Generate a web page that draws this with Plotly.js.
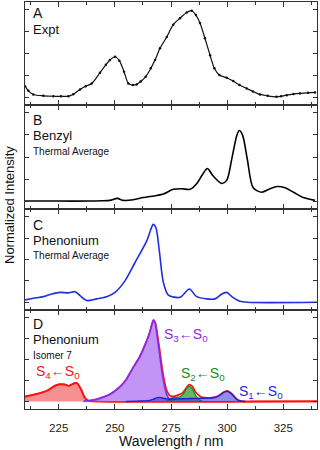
<!DOCTYPE html>
<html><head><meta charset="utf-8">
<script src="https://cdn.plot.ly/plotly-3.0.1.min.js"></script>
<style>html,body{margin:0;padding:0;background:#fff}#chart{width:320px;height:450px}</style>
</head><body><div id="chart"></div>
<script>
// Panel A: experiment
var exptWl  = [210, 211.5, 213.7, 218.2, 222.6, 226, 229.3, 231.5, 234.5, 237, 239.7, 243.4, 246, 247.8, 250.1, 252, 254.1, 256, 258, 259.7, 261.5, 263.7, 266, 267.9, 270.1, 273.1, 276, 279, 282, 284.2, 286.1, 287.9, 290.1, 292.4, 294.3, 296.5, 299.8, 302.7, 305.5, 308.7, 311.5, 314.6, 318, 322, 324, 326.5, 329.5, 332.4, 336, 339.1];
var exptVal = [0.126, 0.072, 0.031, 0.015, 0.01, 0.01, 0.01, 0.034, 0.088, 0.125, 0.157, 0.28, 0.37, 0.425, 0.463, 0.418, 0.29, 0.157, 0.138, 0.146, 0.18, 0.233, 0.33, 0.425, 0.56, 0.69, 0.83, 0.905, 0.97, 0.99, 0.94, 0.85, 0.675, 0.48, 0.33, 0.253, 0.222, 0.184, 0.14, 0.1, 0.065, 0.031, 0.015, 0.004, 0.01, 0.023, 0.035, 0.043, 0.05, 0.054];

// Panel B: Benzyl thermal average
var benzWl  = [210, 225, 239, 244, 247.8, 251.1, 253.8, 258.2, 262.7, 268.6, 271.6, 276, 279.8, 283.5, 286.4, 289.1, 291.2, 293.6, 297.6, 299.8, 302, 304.3, 305.4, 306.9, 309, 311.6, 315.4, 319.1, 322.1, 325.8, 329.5, 333.9, 339.1];
var benzVal = [0, 0, 0, 0.003, 0.008, 0.03, 0.008, 0.015, 0.04, 0.063, 0.08, 0.133, 0.14, 0.133, 0.196, 0.305, 0.37, 0.29, 0.2, 0.235, 0.47, 0.745, 0.8, 0.745, 0.47, 0.15, 0.1, 0.14, 0.165, 0.15, 0.1, 0.04, 0.008];

// Panel C: Phenonium thermal average
var phenWl  = [210, 213.7, 218.1, 221.9, 225.6, 229.3, 232.3, 234.5, 237.5, 241.9, 246.4, 250.1, 254.5, 259, 264.2, 266, 267.1, 268.3, 269.8, 271.6, 273.8, 279, 283.2, 286.4, 290.9, 294.6, 297.6, 299.8, 302.5, 305.7, 309, 340];
var phenVal = [0.027, 0.047, 0.066, 0.097, 0.116, 0.11, 0.124, 0.078, 0.02, 0.04, 0.066, 0.116, 0.25, 0.465, 0.717, 0.85, 0.91, 0.87, 0.6, 0.233, 0.085, 0.058, 0.155, 0.066, 0.04, 0.04, 0.097, 0.116, 0.058, 0.012, 0, 0];

// Panel D: Phenonium isomer 7, total and states
var totWl  = [210, 212, 215, 218, 220, 222, 224, 226, 228, 229.5, 231, 232.5, 233.5, 235, 236.5, 238, 240, 244, 248, 252, 255, 258, 261, 263.5, 265.5, 266.5, 267.2, 268, 269, 270, 271, 272, 273, 274.5, 276, 278, 280, 281.5, 283, 284.5, 286, 288, 290, 293, 296, 298.5, 300, 301.5, 303, 304.5, 306, 308, 312, 340];
var totVal = [0.057, 0.07, 0.087, 0.11, 0.13, 0.165, 0.195, 0.205, 0.2, 0.185, 0.205, 0.22, 0.21, 0.14, 0.05, 0.01, 0.012, 0.042, 0.086, 0.165, 0.255, 0.395, 0.525, 0.675, 0.82, 0.92, 0.97, 0.94, 0.79, 0.61, 0.41, 0.25, 0.14, 0.07, 0.06, 0.075, 0.1, 0.15, 0.2, 0.18, 0.11, 0.06, 0.045, 0.045, 0.065, 0.11, 0.125, 0.105, 0.065, 0.025, 0.006, 0, 0, 0];
var s4Wl  = [210, 212, 215, 218, 220, 222, 224, 226, 228, 229.5, 231, 232.5, 233.5, 235, 236.5, 238, 240, 340];
var s4Val = [0.057, 0.07, 0.087, 0.11, 0.13, 0.165, 0.195, 0.205, 0.2, 0.185, 0.205, 0.22, 0.21, 0.14, 0.05, 0.01, 0, 0];
var s3Wl  = [236, 240, 244, 248, 252, 255, 258, 261, 263.5, 265.5, 266.5, 267.2, 268, 269, 270, 271, 272, 273, 274.5, 276];
var s3Val = [0, 0.015, 0.045, 0.09, 0.17, 0.26, 0.4, 0.53, 0.68, 0.82, 0.92, 0.97, 0.93, 0.75, 0.55, 0.35, 0.2, 0.09, 0.02, 0];
var s2Wl  = [273, 275, 277, 279, 280.5, 282, 283.2, 284.5, 286, 287.5, 289];
var s2Val = [0, 0.04, 0.05, 0.055, 0.09, 0.16, 0.18, 0.15, 0.07, 0.02, 0];
var s1Wl  = [255, 260, 265, 267, 268.5, 270, 271.5, 273, 276, 280, 284, 288, 292, 295, 297, 298.5, 300, 301.5, 303, 304.5, 306, 308];
var s1Val = [0, 0.004, 0.01, 0.025, 0.042, 0.048, 0.04, 0.03, 0.03, 0.032, 0.035, 0.038, 0.04, 0.05, 0.08, 0.11, 0.12, 0.1, 0.06, 0.02, 0.005, 0];

var xTickVals = [225, 250, 275, 300, 325];
var xTickText = ['225', '250', '275', '300', '325'];

var FONT = 'Liberation Sans, Arial, sans-serif';
var traces = [
  {x: exptWl, y: exptVal, xaxis: 'x', yaxis: 'y', mode: 'lines+markers', line: {color: '#111', width: 1.2, shape: 'spline', smoothing: 0.8}, marker: {color: '#111', size: 2.5}},
  {x: benzWl, y: benzVal, xaxis: 'x2', yaxis: 'y2', mode: 'lines', line: {color: '#000', width: 1.6, shape: 'spline', smoothing: 0.8}},
  {x: phenWl, y: phenVal, xaxis: 'x3', yaxis: 'y3', mode: 'lines', line: {color: '#1f2fe0', width: 1.6, shape: 'spline', smoothing: 0.8}},
  {x: totWl, y: totVal, xaxis: 'x4', yaxis: 'y4', mode: 'lines', line: {color: '#ff1010', width: 1.7, shape: 'spline', smoothing: 0.6}},
  {x: s4Wl, y: s4Val, xaxis: 'x4', yaxis: 'y4', mode: 'lines', fill: 'tozeroy', fillcolor: 'rgba(240,70,70,0.6)', line: {color: '#ff1010', width: 1.8, shape: 'spline', smoothing: 0.6}},
  {x: s3Wl, y: s3Val, xaxis: 'x4', yaxis: 'y4', mode: 'lines', fill: 'tozeroy', fillcolor: 'rgba(160,90,240,0.65)', line: {color: '#8a2be2', width: 1.7, shape: 'spline', smoothing: 0.6}},
  {x: s2Wl, y: s2Val, xaxis: 'x4', yaxis: 'y4', mode: 'lines', fill: 'tozeroy', fillcolor: 'rgba(40,150,40,0.7)', line: {color: '#1e8a1e', width: 1.3, shape: 'spline', smoothing: 0.6}},
  {x: s1Wl, y: s1Val, xaxis: 'x4', yaxis: 'y4', mode: 'lines', fill: 'tozeroy', fillcolor: 'rgba(50,50,210,0.55)', line: {color: '#1f1fe0', width: 1.4, shape: 'spline', smoothing: 0.6}}
];

function xax(anchor, labels) {
  return {anchor: anchor, range: [210, 340], showgrid: false, zeroline: false, showline: true, linecolor: '#333', linewidth: 1,
    mirror: 'allticks', ticks: 'inside', ticklen: 5, tickcolor: '#333', tickmode: 'array', tickvals: xTickVals, ticktext: xTickText,
    showticklabels: labels, ticklabelstandoff: 8, tickfont: {family: FONT, size: 11.5, color: '#222'},
    minor: {ticks: 'inside', ticklen: 3, tickcolor: '#333', tickmode: 'linear', tick0: 212.5, dtick: 25}};
}
function yax(anchor, dom) {
  return {anchor: anchor, domain: dom, range: [-0.09, 1.09], showgrid: false, zeroline: false, showline: true, linecolor: '#333', linewidth: 1,
    mirror: 'allticks', ticks: 'inside', ticklen: 4, tickcolor: '#333', tickmode: 'linear', tick0: 0, dtick: 0.25, showticklabels: false};
}

function txt(x, y, t, size, color) {
  return {xref: 'paper', yref: 'paper', x: x, y: y, text: t, showarrow: false, xanchor: 'left', yanchor: 'middle',
    font: {family: FONT, size: size, color: color || '#111'}};
}
// pixel helpers for annotation placement (plot area x 25..317, y 2..409)
function px(x) { return (x - 25) / 292; }
function py(y) { return (409 - y) / 407; }

var annotations = [
  txt(px(31), py(13.5), 'A', 14), txt(px(31), py(29.5), 'Expt', 13),
  txt(px(31), py(119.5), 'B', 14), txt(px(31), py(135.5), 'Benzyl', 13), txt(px(31), py(151), 'Thermal Average', 10),
  txt(px(31), py(224.5), 'C', 14), txt(px(31), py(240.5), 'Phenonium', 13), txt(px(31), py(256), 'Thermal Average', 10),
  txt(px(31), py(323.5), 'D', 14), txt(px(31), py(339.5), 'Phenonium', 13), txt(px(31), py(355), 'Isomer 7', 10),
  txt(px(162), py(335), 'S<sub>3</sub>\u2190S<sub>0</sub>', 14, '#8a2be2'),
  txt(px(179), py(374), 'S<sub>2</sub>\u2190S<sub>0</sub>', 14, '#1e8a1e'),
  txt(px(237), py(392), 'S<sub>1</sub>\u2190S<sub>0</sub>', 14, '#1f1fe0'),
  txt(px(34), py(372), 'S<sub>4</sub>\u2190S<sub>0</sub>', 14, '#ff1010'),
  {xref: 'paper', yref: 'paper', x: px(10), y: py(205), text: 'Normalized Intensity', textangle: -90, showarrow: false,
    xanchor: 'center', yanchor: 'middle', font: {family: FONT, size: 13, color: '#111'}},
  {xref: 'paper', yref: 'paper', x: px(171), y: py(441), text: 'Wavelength / nm', showarrow: false,
    xanchor: 'center', yanchor: 'middle', font: {family: FONT, size: 14, color: '#111'}}
];

var layout = {
  width: 320, height: 450, margin: {l: 25, r: 3, t: 2, b: 41}, showlegend: false,
  paper_bgcolor: '#fff', plot_bgcolor: '#fff', font: {family: FONT},
  xaxis: xax('y', false), xaxis2: xax('y2', false), xaxis3: xax('y3', false), xaxis4: xax('y4', true),
  yaxis: yax('x', [py(105), 1]), yaxis2: yax('x2', [py(209), py(105)]), yaxis3: yax('x3', [py(310), py(209)]), yaxis4: yax('x4', [0, py(310)]),
  annotations: annotations
};
Plotly.newPlot('chart', traces, layout, {staticPlot: true, displayModeBar: false});
</script></body></html>
